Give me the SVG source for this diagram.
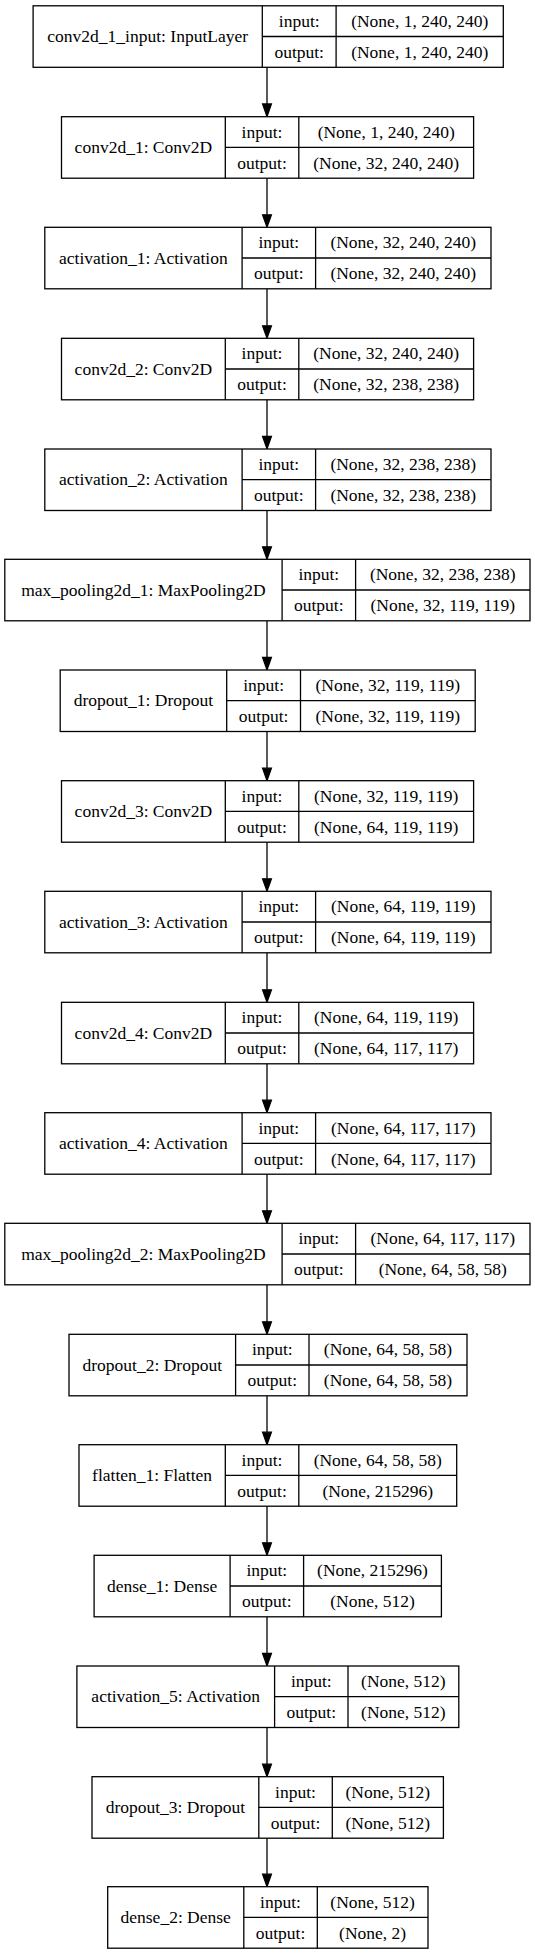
<svg xmlns="http://www.w3.org/2000/svg" width="535" height="1955" viewBox="0 0 535 1955" font-family="'Liberation Serif', 'DejaVu Serif', serif">
<style>
.b{fill:#fff;stroke:#000;stroke-width:1.3}
.l{stroke:#000;stroke-width:1.3;fill:none}
.t{font-family:'Liberation Serif','DejaVu Serif',serif;font-size:17.5px;text-anchor:middle;fill:#000}
.e{stroke:#000;stroke-width:1.3;fill:none}
.h{fill:#000;stroke:#000;stroke-width:1.3}
</style>
<rect width="535" height="1955" fill="#fff"/>
<g id="connectors">
<line class="e" x1="267" y1="67.3" x2="267" y2="104"/><polygon class="h" points="262.6,104 271.4,104 267,116.5"/>
<line class="e" x1="267" y1="178.2" x2="267" y2="214.8"/><polygon class="h" points="262.6,214.8 271.4,214.8 267,227.1"/>
<line class="e" x1="267" y1="288.8" x2="267" y2="325.8"/><polygon class="h" points="262.6,325.8 271.4,325.8 267,338.1"/>
<line class="e" x1="267" y1="399.8" x2="267" y2="436.5"/><polygon class="h" points="262.6,436.5 271.4,436.5 267,448.8"/>
<line class="e" x1="267" y1="510.5" x2="267" y2="546.8"/><polygon class="h" points="262.6,546.8 271.4,546.8 267,559.1"/>
<line class="e" x1="267" y1="620.8" x2="267" y2="657.5"/><polygon class="h" points="262.6,657.5 271.4,657.5 267,669.8"/>
<line class="e" x1="267" y1="731.5" x2="267" y2="768.2"/><polygon class="h" points="262.6,768.2 271.4,768.2 267,780.5"/>
<line class="e" x1="267" y1="842.2" x2="267" y2="878.8"/><polygon class="h" points="262.6,878.8 271.4,878.8 267,891.1"/>
<line class="e" x1="267" y1="952.8" x2="267" y2="989.8"/><polygon class="h" points="262.6,989.8 271.4,989.8 267,1002.1"/>
<line class="e" x1="267" y1="1063.8" x2="267" y2="1100.2"/><polygon class="h" points="262.6,1100.2 271.4,1100.2 267,1112.5"/>
<line class="e" x1="267" y1="1174.2" x2="267" y2="1210.8"/><polygon class="h" points="262.6,1210.8 271.4,1210.8 267,1223.1"/>
<line class="e" x1="267" y1="1284.8" x2="267" y2="1321.8"/><polygon class="h" points="262.6,1321.8 271.4,1321.8 267,1334.1"/>
<line class="e" x1="267" y1="1395.8" x2="267" y2="1432.2"/><polygon class="h" points="262.6,1432.2 271.4,1432.2 267,1444.5"/>
<line class="e" x1="267" y1="1506.2" x2="267" y2="1542.8"/><polygon class="h" points="262.6,1542.8 271.4,1542.8 267,1555.1"/>
<line class="e" x1="267" y1="1616.8" x2="267" y2="1653.5"/><polygon class="h" points="262.6,1653.5 271.4,1653.5 267,1665.8"/>
<line class="e" x1="267" y1="1727.5" x2="267" y2="1764.2"/><polygon class="h" points="262.6,1764.2 271.4,1764.2 267,1776.5"/>
<line class="e" x1="267" y1="1838.2" x2="267" y2="1874.2"/><polygon class="h" points="262.6,1874.2 271.4,1874.2 267,1886.5"/>
</g>
<g id="conv2d_1_input">
<rect class="b" x="33.1" y="5.8" width="470.2" height="61.5"/>
<line class="l" x1="262.3" y1="5.8" x2="262.3" y2="67.3"/><line class="l" x1="336.1" y1="5.8" x2="336.1" y2="67.3"/><line class="l" x1="262.3" y1="36.5" x2="503.3" y2="36.5"/>
<text class="t" x="147.7" y="42.1">conv2d_1_input: InputLayer</text>
<text class="t" x="299.2" y="26.9">input:</text><text class="t" x="299.2" y="57.7">output:</text>
<text class="t" x="419.7" y="26.9">(None, 1, 240, 240)</text><text class="t" x="419.7" y="57.7">(None, 1, 240, 240)</text>
</g>
<g id="conv2d_1">
<rect class="b" x="61.5" y="116.7" width="412.1" height="61.5"/>
<line class="l" x1="225.3" y1="116.7" x2="225.3" y2="178.2"/><line class="l" x1="298.8" y1="116.7" x2="298.8" y2="178.2"/><line class="l" x1="225.3" y1="147.4" x2="473.6" y2="147.4"/>
<text class="t" x="143.4" y="153">conv2d_1: Conv2D</text>
<text class="t" x="262" y="137.8">input:</text><text class="t" x="262" y="168.6">output:</text>
<text class="t" x="386.2" y="137.8">(None, 1, 240, 240)</text><text class="t" x="386.2" y="168.6">(None, 32, 240, 240)</text>
</g>
<g id="activation_1">
<rect class="b" x="44.8" y="227.3" width="446.2" height="61.5"/>
<line class="l" x1="242.1" y1="227.3" x2="242.1" y2="288.8"/><line class="l" x1="315.6" y1="227.3" x2="315.6" y2="288.8"/><line class="l" x1="242.1" y1="258" x2="491" y2="258"/>
<text class="t" x="143.4" y="263.6">activation_1: Activation</text>
<text class="t" x="278.8" y="248.4">input:</text><text class="t" x="278.8" y="279.2">output:</text>
<text class="t" x="403.3" y="248.4">(None, 32, 240, 240)</text><text class="t" x="403.3" y="279.2">(None, 32, 240, 240)</text>
</g>
<g id="conv2d_2">
<rect class="b" x="61.5" y="338.3" width="412.1" height="61.5"/>
<line class="l" x1="225.3" y1="338.3" x2="225.3" y2="399.8"/><line class="l" x1="298.8" y1="338.3" x2="298.8" y2="399.8"/><line class="l" x1="225.3" y1="369" x2="473.6" y2="369"/>
<text class="t" x="143.4" y="374.6">conv2d_2: Conv2D</text>
<text class="t" x="262" y="359.4">input:</text><text class="t" x="262" y="390.2">output:</text>
<text class="t" x="386.2" y="359.4">(None, 32, 240, 240)</text><text class="t" x="386.2" y="390.2">(None, 32, 238, 238)</text>
</g>
<g id="activation_2">
<rect class="b" x="44.8" y="449" width="446.2" height="61.5"/>
<line class="l" x1="242.1" y1="449" x2="242.1" y2="510.5"/><line class="l" x1="315.6" y1="449" x2="315.6" y2="510.5"/><line class="l" x1="242.1" y1="479.7" x2="491" y2="479.7"/>
<text class="t" x="143.4" y="485.3">activation_2: Activation</text>
<text class="t" x="278.8" y="470.1">input:</text><text class="t" x="278.8" y="500.9">output:</text>
<text class="t" x="403.3" y="470.1">(None, 32, 238, 238)</text><text class="t" x="403.3" y="500.9">(None, 32, 238, 238)</text>
</g>
<g id="max_pooling2d_1">
<rect class="b" x="4.8" y="559.3" width="525.2" height="61.5"/>
<line class="l" x1="282.1" y1="559.3" x2="282.1" y2="620.8"/><line class="l" x1="355.6" y1="559.3" x2="355.6" y2="620.8"/><line class="l" x1="282.1" y1="590" x2="530" y2="590"/>
<text class="t" x="143.4" y="595.6">max_pooling2d_1: MaxPooling2D</text>
<text class="t" x="318.8" y="580.4">input:</text><text class="t" x="318.8" y="611.2">output:</text>
<text class="t" x="442.8" y="580.4">(None, 32, 238, 238)</text><text class="t" x="442.8" y="611.2">(None, 32, 119, 119)</text>
</g>
<g id="dropout_1">
<rect class="b" x="60.2" y="670" width="415" height="61.5"/>
<line class="l" x1="226.7" y1="670" x2="226.7" y2="731.5"/><line class="l" x1="300.5" y1="670" x2="300.5" y2="731.5"/><line class="l" x1="226.7" y1="700.7" x2="475.2" y2="700.7"/>
<text class="t" x="143.4" y="706.3">dropout_1: Dropout</text>
<text class="t" x="263.6" y="691.1">input:</text><text class="t" x="263.6" y="721.9">output:</text>
<text class="t" x="387.8" y="691.1">(None, 32, 119, 119)</text><text class="t" x="387.8" y="721.9">(None, 32, 119, 119)</text>
</g>
<g id="conv2d_3">
<rect class="b" x="61.5" y="780.7" width="412.1" height="61.5"/>
<line class="l" x1="225.3" y1="780.7" x2="225.3" y2="842.2"/><line class="l" x1="298.8" y1="780.7" x2="298.8" y2="842.2"/><line class="l" x1="225.3" y1="811.4" x2="473.6" y2="811.4"/>
<text class="t" x="143.4" y="817">conv2d_3: Conv2D</text>
<text class="t" x="262" y="801.8">input:</text><text class="t" x="262" y="832.6">output:</text>
<text class="t" x="386.2" y="801.8">(None, 32, 119, 119)</text><text class="t" x="386.2" y="832.6">(None, 64, 119, 119)</text>
</g>
<g id="activation_3">
<rect class="b" x="44.8" y="891.3" width="446.2" height="61.5"/>
<line class="l" x1="242.1" y1="891.3" x2="242.1" y2="952.8"/><line class="l" x1="315.6" y1="891.3" x2="315.6" y2="952.8"/><line class="l" x1="242.1" y1="922" x2="491" y2="922"/>
<text class="t" x="143.4" y="927.6">activation_3: Activation</text>
<text class="t" x="278.8" y="912.4">input:</text><text class="t" x="278.8" y="943.2">output:</text>
<text class="t" x="403.3" y="912.4">(None, 64, 119, 119)</text><text class="t" x="403.3" y="943.2">(None, 64, 119, 119)</text>
</g>
<g id="conv2d_4">
<rect class="b" x="61.5" y="1002.3" width="412.1" height="61.5"/>
<line class="l" x1="225.3" y1="1002.3" x2="225.3" y2="1063.8"/><line class="l" x1="298.8" y1="1002.3" x2="298.8" y2="1063.8"/><line class="l" x1="225.3" y1="1033" x2="473.6" y2="1033"/>
<text class="t" x="143.4" y="1038.6">conv2d_4: Conv2D</text>
<text class="t" x="262" y="1023.4">input:</text><text class="t" x="262" y="1054.2">output:</text>
<text class="t" x="386.2" y="1023.4">(None, 64, 119, 119)</text><text class="t" x="386.2" y="1054.2">(None, 64, 117, 117)</text>
</g>
<g id="activation_4">
<rect class="b" x="44.8" y="1112.7" width="446.2" height="61.5"/>
<line class="l" x1="242.1" y1="1112.7" x2="242.1" y2="1174.2"/><line class="l" x1="315.6" y1="1112.7" x2="315.6" y2="1174.2"/><line class="l" x1="242.1" y1="1143.4" x2="491" y2="1143.4"/>
<text class="t" x="143.4" y="1149">activation_4: Activation</text>
<text class="t" x="278.8" y="1133.8">input:</text><text class="t" x="278.8" y="1164.6">output:</text>
<text class="t" x="403.3" y="1133.8">(None, 64, 117, 117)</text><text class="t" x="403.3" y="1164.6">(None, 64, 117, 117)</text>
</g>
<g id="max_pooling2d_2">
<rect class="b" x="4.8" y="1223.3" width="525.2" height="61.5"/>
<line class="l" x1="282.1" y1="1223.3" x2="282.1" y2="1284.8"/><line class="l" x1="355.6" y1="1223.3" x2="355.6" y2="1284.8"/><line class="l" x1="282.1" y1="1254" x2="530" y2="1254"/>
<text class="t" x="143.4" y="1259.6">max_pooling2d_2: MaxPooling2D</text>
<text class="t" x="318.8" y="1244.4">input:</text><text class="t" x="318.8" y="1275.2">output:</text>
<text class="t" x="442.8" y="1244.4">(None, 64, 117, 117)</text><text class="t" x="442.8" y="1275.2">(None, 64, 58, 58)</text>
</g>
<g id="dropout_2">
<rect class="b" x="69" y="1334.3" width="398" height="61.5"/>
<line class="l" x1="235.6" y1="1334.3" x2="235.6" y2="1395.8"/><line class="l" x1="309" y1="1334.3" x2="309" y2="1395.8"/><line class="l" x1="235.6" y1="1365" x2="467" y2="1365"/>
<text class="t" x="152.3" y="1370.6">dropout_2: Dropout</text>
<text class="t" x="272.3" y="1355.4">input:</text><text class="t" x="272.3" y="1386.2">output:</text>
<text class="t" x="388" y="1355.4">(None, 64, 58, 58)</text><text class="t" x="388" y="1386.2">(None, 64, 58, 58)</text>
</g>
<g id="flatten_1">
<rect class="b" x="79" y="1444.7" width="377.7" height="61.5"/>
<line class="l" x1="225.3" y1="1444.7" x2="225.3" y2="1506.2"/><line class="l" x1="298.8" y1="1444.7" x2="298.8" y2="1506.2"/><line class="l" x1="225.3" y1="1475.4" x2="456.7" y2="1475.4"/>
<text class="t" x="152.1" y="1481">flatten_1: Flatten</text>
<text class="t" x="262" y="1465.8">input:</text><text class="t" x="262" y="1496.6">output:</text>
<text class="t" x="377.8" y="1465.8">(None, 64, 58, 58)</text><text class="t" x="377.8" y="1496.6">(None, 215296)</text>
</g>
<g id="dense_1">
<rect class="b" x="94.1" y="1555.3" width="347.3" height="61.5"/>
<line class="l" x1="230.1" y1="1555.3" x2="230.1" y2="1616.8"/><line class="l" x1="303.6" y1="1555.3" x2="303.6" y2="1616.8"/><line class="l" x1="230.1" y1="1586" x2="441.4" y2="1586"/>
<text class="t" x="162.1" y="1591.6">dense_1: Dense</text>
<text class="t" x="266.8" y="1576.4">input:</text><text class="t" x="266.8" y="1607.2">output:</text>
<text class="t" x="372.5" y="1576.4">(None, 215296)</text><text class="t" x="372.5" y="1607.2">(None, 512)</text>
</g>
<g id="activation_5">
<rect class="b" x="76.9" y="1666" width="381.9" height="61.5"/>
<line class="l" x1="274.6" y1="1666" x2="274.6" y2="1727.5"/><line class="l" x1="348" y1="1666" x2="348" y2="1727.5"/><line class="l" x1="274.6" y1="1696.7" x2="458.8" y2="1696.7"/>
<text class="t" x="175.7" y="1702.3">activation_5: Activation</text>
<text class="t" x="311.3" y="1687.1">input:</text><text class="t" x="311.3" y="1717.9">output:</text>
<text class="t" x="403.4" y="1687.1">(None, 512)</text><text class="t" x="403.4" y="1717.9">(None, 512)</text>
</g>
<g id="dropout_3">
<rect class="b" x="92" y="1776.7" width="351.4" height="61.5"/>
<line class="l" x1="258.8" y1="1776.7" x2="258.8" y2="1838.2"/><line class="l" x1="332.3" y1="1776.7" x2="332.3" y2="1838.2"/><line class="l" x1="258.8" y1="1807.4" x2="443.4" y2="1807.4"/>
<text class="t" x="175.4" y="1813">dropout_3: Dropout</text>
<text class="t" x="295.5" y="1797.8">input:</text><text class="t" x="295.5" y="1828.6">output:</text>
<text class="t" x="387.8" y="1797.8">(None, 512)</text><text class="t" x="387.8" y="1828.6">(None, 512)</text>
</g>
<g id="dense_2">
<rect class="b" x="107.7" y="1886.7" width="320.3" height="61.5"/>
<line class="l" x1="243.8" y1="1886.7" x2="243.8" y2="1948.2"/><line class="l" x1="317.3" y1="1886.7" x2="317.3" y2="1948.2"/><line class="l" x1="243.8" y1="1917.4" x2="428" y2="1917.4"/>
<text class="t" x="175.7" y="1923">dense_2: Dense</text>
<text class="t" x="280.5" y="1907.8">input:</text><text class="t" x="280.5" y="1938.6">output:</text>
<text class="t" x="372.6" y="1907.8">(None, 512)</text><text class="t" x="372.6" y="1938.6">(None, 2)</text>
</g>
</svg>
